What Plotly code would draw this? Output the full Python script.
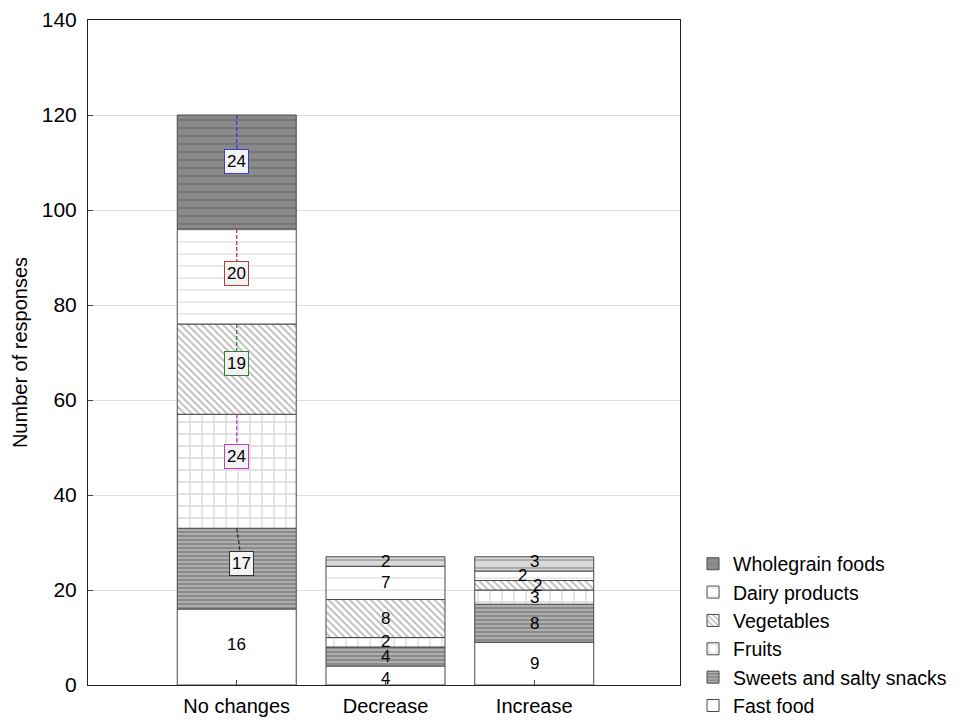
import plotly.graph_objects as go
import numpy as np

categories = ["No changes", "Decrease", "Increase"]
series_names = ["Fast food", "Sweets and salty snacks", "Fruits", "Vegetables",
                "Dairy products", "Wholegrain foods"]
fast_food = [16, 4, 9]
sweets_snacks = [17, 4, 8]
fruits = [24, 2, 3]
vegetables = [19, 8, 2]
dairy = [20, 7, 2]
wholegrain = [24, 2, 3]
y_ticks = [0, 20, 40, 60, 80, 100, 120, 140]

series_values = [fast_food, sweets_snacks, fruits, vegetables, dairy, wholegrain]

# ---- styles ----
FONT = "Liberation Sans, Arial, sans-serif"
edge = dict(color="#4a4a4a", width=1)
styles = [
    dict(color="white"),
    dict(color="#8a8a8a", pattern=dict(shape="-", fillmode="overlay", fgcolor="#f0f0f0",
                                       size=4, solidity=0.35)),
    dict(color="white", pattern=dict(shape="+", fillmode="overlay", fgcolor="#b0b0b0",
                                     size=12, solidity=0.2)),
    dict(color="white", pattern=dict(shape="\\", fillmode="overlay", fgcolor="#7a7a7a",
                                     size=5, solidity=0.38)),
    dict(color="white", pattern=dict(shape="-", fillmode="overlay", fgcolor="#c8c8c8",
                                     size=12, solidity=0.12)),
    dict(color=["#8a8a8a", "#d8d8d8", "#d8d8d8"],
         pattern=dict(shape="-", fillmode="overlay",
                      fgcolor=["#a0a0a0", "#d8d8d8", "#d8d8d8"], size=8, solidity=0.15)),
]
# label styling for the first category (boxed labels with dashed leader lines)
box_colors = [None, "#333333", "#c040c0", "#3a7a3a", "#b04040", "#3a3acc"]
label_shift = [0.6, 1.0, 3.2, 1.1, 0.7, 2.3]
x_shift_first = [0, 5, 0, 0, 0, 0]
# small horizontal nudges for crowded labels (series x category)
x_nudge = [[0, 0, 0], [0, 0, 0], [0, 0, 0], [0, 0, 3], [0, 0, -12], [0, 0, 0]]
y_nudge = [[0, -3, 0], [0, 0, 0], [0, 1, 0], [0, 0, 0], [0, 0, 0], [0, 0, 2]]

xpos = np.arange(len(categories))
fig = go.Figure()

cum = np.zeros(len(categories))
bases = []
for name, vals, st in zip(series_names, series_values, styles):
    vals = np.array(vals, dtype=float)
    bases.append(cum.copy())
    marker = dict(st)
    marker["line"] = edge
    fig.add_trace(go.Bar(x=xpos, y=vals, base=cum.copy(), name=name, width=0.8,
                         marker=marker, hoverinfo="skip"))
    cum = cum + vals

annotations = []
for i, (vals, base) in enumerate(zip(series_values, bases)):
    for j, v in enumerate(vals):
        center = base[j] + v / 2
        if j == 0:
            ly = center + label_shift[i]
            top = base[j] + v
            if box_colors[i] is not None:
                lx = xpos[j] + x_shift_first[i] / 148.5
                fig.add_trace(go.Scatter(
                    x=[xpos[j], lx], y=[top, ly],
                    mode="lines", line=dict(color=box_colors[i], width=1.3, dash="4px,2px"),
                    showlegend=False, hoverinfo="skip"))
                annotations.append(dict(
                    x=lx, y=ly, text=str(v), showarrow=False,
                    font=dict(family=FONT, size=17, color="black"),
                    bgcolor="#f2f2f2", bordercolor=box_colors[i], borderwidth=1, borderpad=2))
            else:
                annotations.append(dict(x=xpos[j], y=ly, text=str(v), showarrow=False,
                                        font=dict(family=FONT, size=17, color="black")))
        else:
            annotations.append(dict(x=xpos[j], y=center, text=str(v), showarrow=False,
                                    xshift=x_nudge[i][j], yshift=y_nudge[i][j],
                                    font=dict(family=FONT, size=17, color="black")))

# the page body adds an 8px offset, so the figure is sized to fit the window
fig.update_layout(
    width=957, height=713,
    margin=dict(l=80, r=285, t=12, b=36, autoexpand=False),
    paper_bgcolor="white", plot_bgcolor="white",
    barmode="overlay",
    font=dict(family=FONT, size=20, color="black"),
    annotations=annotations,
    showlegend=True,
    legend=dict(x=1.022, y=-0.061, xanchor="left", yanchor="bottom",
                traceorder="reversed", font=dict(family=FONT, size=19.5, color="black"),
                bgcolor="rgba(0,0,0,0)", tracegroupgap=0, itemclick=False),
    xaxis=dict(range=[-1, 2.98], tickmode="array", tickvals=list(xpos), ticktext=categories,
               showgrid=False, zeroline=False, showline=True, linecolor="#222222",
               linewidth=1, mirror=True, ticks="inside", ticklen=5, tickcolor="#444",
               ticklabelstandoff=3,
               tickfont=dict(family=FONT, size=20, color="black")),
    yaxis=dict(range=[0, 140], tickmode="array", tickvals=y_ticks,
               showgrid=True, gridcolor="#dcdcdc", gridwidth=1, zeroline=False,
               showline=True, linecolor="#222222", linewidth=1, mirror=True,
               ticks="inside", ticklen=5, tickcolor="#444", ticklabelstandoff=6,
               tickfont=dict(family=FONT, size=21, color="black"),
               title=dict(text="Number of responses", font=dict(family=FONT, size=20),
                          standoff=8)),
)

fig.write_html("out.html")
